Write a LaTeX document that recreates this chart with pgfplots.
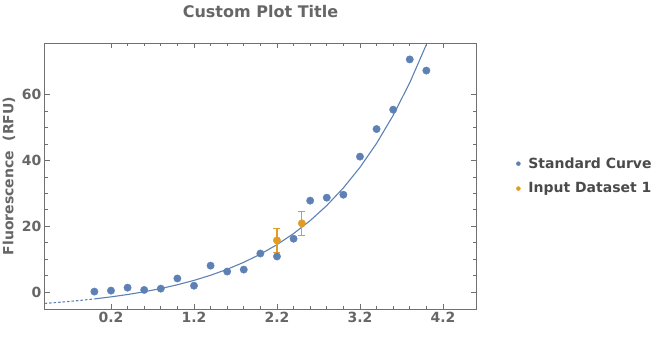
\documentclass[border=0pt]{standalone}
\usepackage{pgfplots}
\pgfplotsset{compat=1.18}
\usepackage{fontspec}
\setmainfont{DejaVu Sans}
\definecolor{mblue}{HTML}{5E81B5}
\definecolor{morange}{HTML}{E19C24}
\definecolor{tgray}{HTML}{666666}
\definecolor{lgray}{HTML}{4A4A4A}
\definecolor{fgray}{HTML}{707070}
\pgfplotstableread{
x y
0.0 0.1
0.2 0.4
0.4 1.3
0.6 0.6
0.8 1.0
1.0 4.1
1.2 1.9
1.4 8.0
1.6 6.2
1.8 6.8
2.0 11.7
2.2 10.8
2.4 16.2
2.6 27.8
2.8 28.7
3.0 29.6
3.2 41.2
3.4 49.6
3.6 55.5
3.8 70.8
4.0 67.4
}\standard
\pgfplotstableread{
x y e
2.2 15.7 3.6
2.5 20.9 3.7
}\inputdata
\begin{document}
\begin{tikzpicture}
\useasboundingbox (-45bp,-45bp) rectangle (615bp,309bp);
\begin{axis}[
  at={(0,0)}, anchor=south west,
  scale only axis, width=431bp, height=266bp,
  xmin=-0.595, xmax=4.598, ymin=-5.2, ymax=75.8,
  xtick={0.2,1.2,2.2,3.2,4.2}, xticklabels={0.2,1.2,2.2,3.2,4.2},
  minor x tick num=4,
  ytick={0,20,40,60}, minor y tick num=3,
  xtick pos=both, ytick pos=both, tick align=inside,
  major tick length=5bp, minor tick length=3bp,
  every tick/.style={fgray, line width=0.8bp},
  axis line style={fgray, line width=1bp},
  /pgf/number format/assume math mode=true,
  tick label style={font=\fontsize{14bp}{16bp}\selectfont\bfseries, text=tgray},
  title={Custom Plot Title},
  title style={font=\fontsize{16bp}{18bp}\selectfont\bfseries, text=tgray, yshift=16bp},
  ylabel={Fluorescence\ \ (RFU)},
  ylabel style={font=\fontsize{14bp}{16bp}\selectfont\bfseries, text=tgray},
  legend style={at={(1,0.5)}, anchor=west, xshift=37bp, draw=none, fill=none,
    font=\fontsize{14bp}{16bp}\selectfont\bfseries, text=lgray, row sep=9bp},
  legend cell align=left,
]
\addlegendimage{legend image code/.code={\fill[mblue] (0bp,0bp) circle (2bp);\path[draw=none,fill=none] (-2bp,-1bp) rectangle (8bp,1bp);}}
\addlegendentry{Standard Curve}
\addlegendimage{legend image code/.code={\fill[morange] (0bp,0bp) circle (2bp);\path[draw=none,fill=none] (-2bp,-1bp) rectangle (8bp,1bp);}}
\addlegendentry{Input Dataset 1}
\addplot[mblue, line width=1.1bp, dash pattern=on 2.5bp off 2bp, forget plot] coordinates {
(-0.6,-3.50) (-0.4,-3.11) (-0.2,-2.66) (0,-2.13)};
\addplot[mblue, line width=1.1bp, forget plot] coordinates {
(0,-2.13) (0.2,-1.51) (0.4,-0.79) (0.6,0.05) (0.8,1.03) (1.0,2.18) (1.2,3.51)
(1.4,5.07) (1.6,6.89) (1.8,9.02) (2.0,11.50) (2.2,14.39) (2.4,17.77) (2.6,21.71)
(2.8,26.31) (3.0,31.67) (3.2,37.93) (3.4,45.24) (3.6,53.77) (3.8,63.72) (4.0,75.33)};
\addplot[only marks, mark=*, mark size=3.7bp, mblue, forget plot] table[x=x, y=y] {\standard};
\addplot[only marks, mark=*, mark size=3.7bp, morange, forget plot,
  error bars/.cd, y dir=both, y explicit,
  error bar style={line width=1.1bp, draw=morange},
  error mark options={rotate=90, mark size=3.5bp, line width=1.1bp, draw=morange}]
  table[x=x, y=y, y error=e] {\inputdata};
\end{axis}
\end{tikzpicture}
\end{document}
